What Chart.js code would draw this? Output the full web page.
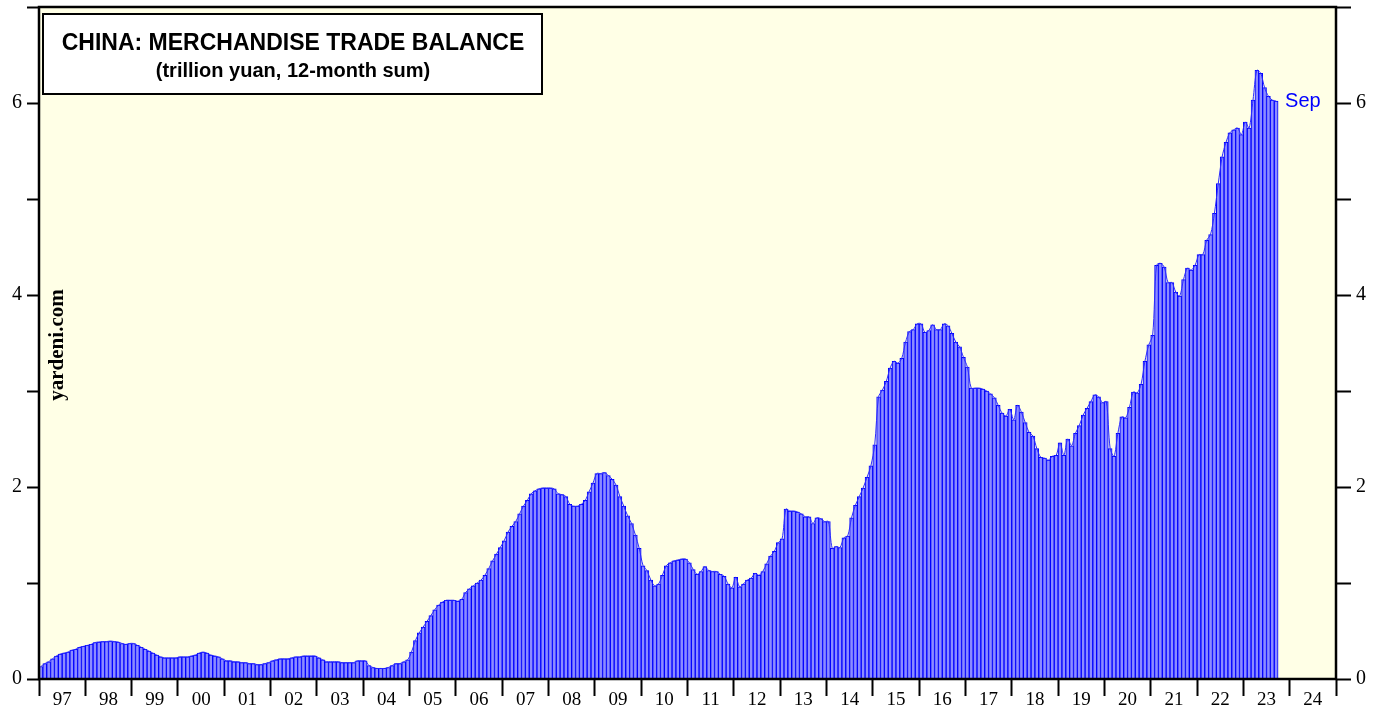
<!DOCTYPE html>
<html>
<head>
<meta charset="utf-8">
<script src="https://cdn.jsdelivr.net/npm/chart.js@4.4.0/dist/chart.umd.min.js"></script>
<style>
  body { margin: 0; background: #fff; }
  #wrap { width: 1385px; height: 710px; position: relative; }
</style>
</head>
<body>
<div id="wrap"><canvas id="chart"></canvas></div>
<script>
// x axis runs Jan 1997 .. Dec 2024, one category per month
var firstYear = 1997
var lastYear = 2024
var yearLabels = ["97","98","99","00","01","02","03","04","05","06","07","08","09","10",
                  "11","12","13","14","15","16","17","18","19","20","21","22","23","24"]
var yTickValues = [0, 2, 4, 6]
var lastMonthLabel = "Sep"

// trillion yuan, 12-month sum, monthly from Jan 1997 to Sep 2023
var tradeBalance = [
  0.13, 0.16, 0.18, 0.21, 0.24, 0.26, 0.27, 0.28, 0.30, 0.31, 0.33, 0.34, // 97
  0.35, 0.36, 0.38, 0.385, 0.39, 0.39, 0.395, 0.39, 0.385, 0.37, 0.36, 0.37, // 98
  0.37, 0.35, 0.33, 0.31, 0.29, 0.27, 0.25, 0.23, 0.22, 0.22, 0.22, 0.22, // 99
  0.23, 0.23, 0.23, 0.24, 0.25, 0.27, 0.28, 0.27, 0.25, 0.24, 0.23, 0.21, // 00
  0.19, 0.19, 0.18, 0.18, 0.17, 0.17, 0.16, 0.16, 0.15, 0.15, 0.16, 0.17, // 01
  0.19, 0.20, 0.21, 0.21, 0.21, 0.22, 0.23, 0.23, 0.24, 0.24, 0.24, 0.24, // 02
  0.22, 0.20, 0.18, 0.18, 0.18, 0.18, 0.17, 0.17, 0.17, 0.17, 0.19, 0.19, // 03
  0.19, 0.14, 0.12, 0.11, 0.11, 0.11, 0.12, 0.14, 0.16, 0.16, 0.18, 0.20, // 04
  0.28, 0.40, 0.48, 0.54, 0.60, 0.66, 0.72, 0.77, 0.80, 0.82, 0.82, 0.82, // 05
  0.81, 0.83, 0.90, 0.94, 0.97, 1.00, 1.03, 1.08, 1.15, 1.23, 1.30, 1.37, // 06
  1.44, 1.53, 1.59, 1.64, 1.72, 1.80, 1.86, 1.93, 1.96, 1.98, 1.99, 1.99, // 07
  1.99, 1.98, 1.93, 1.92, 1.90, 1.82, 1.80, 1.80, 1.82, 1.86, 1.95, 2.04, // 08
  2.14, 2.14, 2.15, 2.12, 2.08, 2.02, 1.90, 1.80, 1.70, 1.62, 1.50, 1.36, // 09
  1.18, 1.13, 1.03, 0.97, 0.99, 1.08, 1.18, 1.21, 1.23, 1.24, 1.25, 1.25, // 10
  1.21, 1.14, 1.09, 1.12, 1.17, 1.13, 1.12, 1.12, 1.09, 1.07, 0.99, 0.95, // 11
  1.06, 0.96, 0.99, 1.03, 1.05, 1.10, 1.08, 1.12, 1.20, 1.28, 1.33, 1.42, // 12
  1.46, 1.77, 1.75, 1.75, 1.74, 1.72, 1.69, 1.69, 1.62, 1.68, 1.67, 1.64, // 13
  1.64, 1.36, 1.38, 1.37, 1.47, 1.49, 1.68, 1.81, 1.90, 1.99, 2.10, 2.22, // 14
  2.44, 2.94, 3.01, 3.10, 3.24, 3.31, 3.29, 3.34, 3.51, 3.62, 3.64, 3.70, // 15
  3.70, 3.61, 3.63, 3.69, 3.64, 3.64, 3.70, 3.68, 3.60, 3.51, 3.46, 3.35, // 16
  3.25, 3.03, 3.03, 3.03, 3.02, 3.00, 2.97, 2.93, 2.85, 2.77, 2.74, 2.81, // 17
  2.70, 2.85, 2.78, 2.67, 2.57, 2.53, 2.40, 2.31, 2.30, 2.28, 2.32, 2.33, // 18
  2.46, 2.33, 2.50, 2.43, 2.56, 2.64, 2.75, 2.82, 2.89, 2.96, 2.94, 2.88, // 19
  2.89, 2.40, 2.32, 2.56, 2.73, 2.72, 2.83, 2.99, 2.98, 3.07, 3.31, 3.48, // 20
  3.58, 4.31, 4.33, 4.29, 4.13, 4.13, 4.03, 3.99, 4.16, 4.28, 4.26, 4.31, // 21
  4.42, 4.42, 4.57, 4.63, 4.85, 5.16, 5.44, 5.59, 5.69, 5.72, 5.74, 5.67, // 22
  5.80, 5.74, 6.03, 6.34, 6.31, 6.16, 6.07, 6.03, 6.02                    // 23
]

var months = []
for (var y = firstYear; y <= lastYear; y++) {
  for (var m = 1; m <= 12; m++) months.push(y + "-" + (m < 10 ? "0" + m : m))
}
var barValues = months.map(function (_, i) { return i < tradeBalance.length ? tradeBalance[i] : null })

var chartPlugin = {
  id: "yardeniLook",
  beforeDraw: function (chart) {
    var ctx = chart.ctx, a = chart.chartArea
    ctx.save()
    ctx.fillStyle = "#ffffe6"
    ctx.fillRect(a.left, a.top, a.right - a.left, a.bottom - a.top)
    ctx.restore()
  },
  afterDraw: function (chart) {
    var ctx = chart.ctx, a = chart.chartArea
    ctx.save()
    // frame
    ctx.strokeStyle = "#000"
    ctx.lineWidth = 2.5
    ctx.strokeRect(a.left, a.top, a.right - a.left, a.bottom - a.top)

    // title box
    ctx.fillStyle = "#fff"
    ctx.fillRect(a.left + 4, a.top + 7, 499, 80)
    ctx.lineWidth = 2
    ctx.strokeRect(a.left + 4, a.top + 7, 499, 80)
    ctx.fillStyle = "#000"
    ctx.textAlign = "center"
    ctx.textBaseline = "alphabetic"
    ctx.font = "bold 23px 'Liberation Sans', Arial, sans-serif"
    ctx.fillText("CHINA: MERCHANDISE TRADE BALANCE", a.left + 254, a.top + 43)
    ctx.font = "bold 20px 'Liberation Sans', Arial, sans-serif"
    ctx.fillText("(trillion yuan, 12-month sum)", a.left + 254, a.top + 70)

    // yardeni.com
    ctx.save()
    ctx.translate(a.left + 19, 345)
    ctx.rotate(-Math.PI / 2)
    ctx.font = "bold 21px 'Liberation Serif', 'Times New Roman', serif"
    ctx.textBaseline = "middle"
    ctx.fillText("yardeni.com", 0, 0)
    ctx.restore()

    // last month label
    var meta = chart.getDatasetMeta(1)
    var last = meta.data[tradeBalance.length - 1]
    ctx.fillStyle = "#0000ff"
    ctx.textAlign = "left"
    ctx.textBaseline = "middle"
    ctx.font = "20px 'Liberation Sans', Arial, sans-serif"
    ctx.fillText(lastMonthLabel, last.x + last.width / 2 + 7, last.y)
    ctx.restore()
  }
}

var yTicks = {
  min: 0, max: 7, stepSize: 1,
  color: "#000",
  font: { family: "'Liberation Serif', 'Times New Roman', serif", size: 20 },
  callback: function (v) { return yTickValues.indexOf(v) >= 0 ? String(v) : "" }
}

function noPad(s) {
  s.paddingTop = 0
  s.paddingBottom = 0
  s.paddingLeft = 0
  s.paddingRight = 0
}

new Chart(document.getElementById("chart"), {
  data: {
    labels: months,
    datasets: [
      {
        type: "line",
        data: barValues,
        borderColor: "#2a2aff",
        borderWidth: 1,
        pointRadius: 0,
        tension: 0.3,
        order: 0
      },
      {
        type: "bar",
        data: barValues,
        backgroundColor: "#8c8cff",
        borderColor: "#0000ff",
        borderWidth: 1,
        barPercentage: 1,
        categoryPercentage: 1,
        order: 1
      }
    ]
  },
  options: {
    responsive: true,
    maintainAspectRatio: false,
    animation: false,
    layout: { padding: { top: 7, left: 0, right: 0, bottom: 0 }, autoPadding: false },
    plugins: { legend: { display: false }, tooltip: { enabled: false } },
    scales: {
      x: {
        type: "category",
        offset: true,
        border: { display: false },
        grid: {
          offset: true,
          drawOnChartArea: false,
          tickLength: 17,
          tickWidth: 2,
          color: function (c) {
            return (c.index === undefined || c.index % 12 === 0) ? "#000" : "rgba(0,0,0,0)"
          }
        },
        ticks: {
          autoSkip: false,
          maxRotation: 0,
          minRotation: 0,
          padding: -7,
          labelOffset: -1.93,
          color: "#000",
          font: { family: "'Liberation Serif', 'Times New Roman', serif", size: 19 },
          callback: function (v, i) { return i % 12 === 6 ? yearLabels[Math.floor(i / 12)] : "" }
        },
        afterFit: function (s) { s.height = 31; noPad(s) }
      },
      y: {
        position: "left",
        min: 0, max: 7,
        border: { display: false },
        grid: { drawOnChartArea: false, tickLength: 12, tickWidth: 2, color: "#000" },
        ticks: Object.assign({ padding: 5 }, yTicks),
        afterFit: function (s) { s.width = 39; noPad(s) }
      },
      y2: {
        position: "right",
        min: 0, max: 7,
        border: { display: false },
        grid: { drawOnChartArea: false, tickLength: 15, tickWidth: 2, color: "#000" },
        ticks: Object.assign({ padding: 5 }, yTicks),
        afterFit: function (s) { s.width = 49; noPad(s) }
      }
    }
  },
  plugins: [chartPlugin]
})
</script>
</body>
</html>
